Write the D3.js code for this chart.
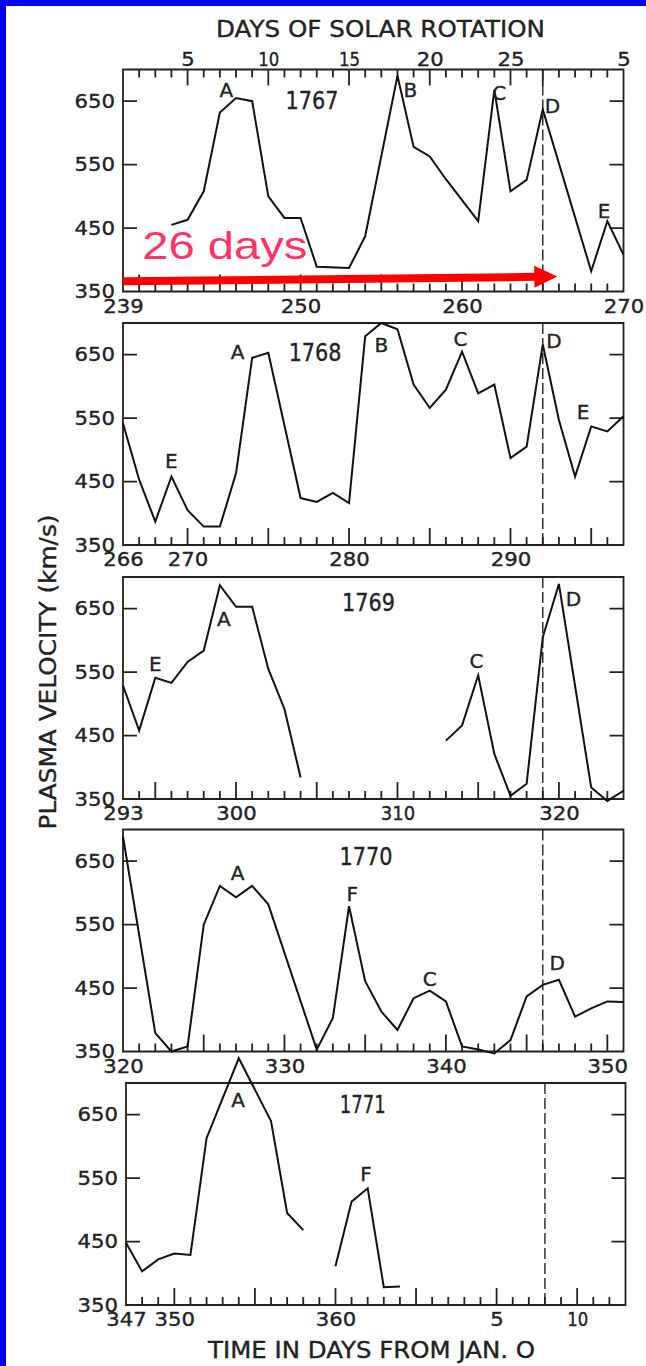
<!DOCTYPE html>
<html>
<head>
<meta charset="utf-8">
<script src="https://cdn.jsdelivr.net/npm/d3@7"></script>
<style>
  html, body { margin: 0; padding: 0; background: #fff; }
  svg { display: block; }
</style>
</head>
<body>
<svg id="chart" width="646" height="1366"></svg>
<script>
// ---- Data -------------------------------------------------------------
// Solar rotation numbers and the first day (day of year) shown in each strip
const rotations = [1767, 1768, 1769, 1770, 1771];
const dayStart = [239, 266, 293, 320, 347];

// Daily plasma velocity (km/s); null marks a data gap
const days1767 = [242, 243, 244, 245, 246, 247, 248, 249, 250, 251, 253, 254, 256, 257, 258, 259, 261, 262, 263, 264, 265, 268, 269, 270];
const vel1767  = [455, 463, 508, 632, 655, 650, 500, 466, 466, 389, 387, 437, 690, 578, 563, 527, 461, 668, 508, 526, 637, 382, 461, 408];

const days1768 = [266, 267, 268, 269, 270, 271, 272, 273, 274, 275, 277, 278, 279, 280, 281, 282, 283, 284, 285, 286, 287, 288, 289, 290, 291, 292, 293, 294, 295, 296, 297];
const vel1768  = [542, 453, 387, 458, 405, 379, 379, 463, 645, 653, 424, 418, 432, 416, 679, 700, 690, 603, 566, 595, 655, 589, 603, 487, 505, 666, 547, 458, 537, 529, 553];

const days1769 = [293, 294, 295, 296, 297, 298, 299, 300, 301, 302, 303, 304, 308, 313, 314, 315, 316, 317, 318, 319, 320, 322, 323, 324];
const vel1769  = [529, 458, 541, 533, 566, 584, 687, 653, 653, 555, 492, 384, null, 442, 466, 545, 421, 355, 374, 605, 689, 368, 347, 363];

const days1770 = [320, 322, 323, 324, 325, 326, 327, 328, 329, 332, 333, 334, 335, 336, 337, 338, 339, 340, 341, 342, 343, 344, 345, 346, 347, 348, 349, 350, 351];
const vel1770  = [689, 379, 350, 358, 550, 611, 593, 611, 582, 353, 403, 579, 461, 413, 384, 434, 446, 429, 358, 353, 347, 368, 437, 455, 463, 405, 418, 429, 428];

const days1771 = [347, 348, 349, 350, 351, 352, 354, 356, 357, 358, 359, 360, 361, 362, 363, 364];
const vel1771  = [448, 403, 422, 431, 429, 613, 739, 640, 495, 468, null, 411, 513, 534, 378, 379];

// Bottom axis labels of each strip (day of year; the last strip runs into January)
const tickDays = [
  [239, 250, 260, 270],
  [266, 270, 280, 290],
  [293, 300, 310, 320],
  [320, 330, 340, 350],
  [347, 350, 360, 370, 375]
];
const tickText = [
  ["239", "250", "260", "270"],
  ["266", "270", "280", "290"],
  ["293", "300", "310", "320"],
  ["320", "330", "340", "350"],
  ["347", "350", "360", "5", "10"]
];

// Days of solar rotation (top scale of the first strip)
const rotTickDays = [243, 248, 253, 258, 263, 270];
const rotTickText = ["5", "10", "15", "20", "25", "5"];

// Velocity axis
const velTicks = [350, 450, 550, 650];

// Recurring stream labels in data coordinates (day, km/s)
const peakLabels = [
  [ {t: "A", d: 245.4, v: 656}, {t: "B", d: 256.8, v: 656}, {t: "C", d: 262.3, v: 652}, {t: "D", d: 265.6, v: 632}, {t: "E", d: 268.8, v: 466} ],
  [ {t: "E", d: 269.0, v: 472}, {t: "A", d: 273.1, v: 644}, {t: "B", d: 282.0, v: 655}, {t: "C", d: 286.9, v: 664}, {t: "D", d: 292.7, v: 660}, {t: "E", d: 294.5, v: 549} ],
  [ {t: "E", d: 295.0, v: 552}, {t: "A", d: 299.25, v: 623}, {t: "C", d: 314.9, v: 557}, {t: "D", d: 320.9, v: 655} ],
  [ {t: "A", d: 327.1, v: 620}, {t: "F", d: 334.2, v: 588}, {t: "C", d: 339.0, v: 454}, {t: "D", d: 346.9, v: 478} ],
  [ {t: "A", d: 353.96, v: 662}, {t: "F", d: 361.9, v: 545} ]
];
// Rotation number label position in each strip (day, km/s)
const yearLabelPos = [
  {d: 250.7, v: 637}, {d: 277.9, v: 640}, {d: 308.2, v: 647}, {d: 335.05, v: 644}, {d: 361.7, v: 652}
];

// "26 days" arrow across the first strip (day, km/s)
const arrowFrom = {d: 239, v: 366};
const arrowTo   = {d: 265.9, v: 373.5};
const arrowText = {t: "26 days", d: 240.2, v: 401};

// ---- Layout -------------------------------------------------------------
const W = 646, H = 1366;
const panelTop   = [69.5, 323, 577, 829.5, 1083];
const panelH     = 222;
const panelLeft  = [123, 123, 123, 123, 126];
const panelWidth = [500.5, 500.5, 500.5, 500.5, 499.5];
const spanDays = 31;

const INK = "#222";
const FONT = "'DejaVu Sans', 'Liberation Sans', sans-serif";

// approximate widths of the hand lettering: narrow "1", wide other glyphs
function letteringWidth(str, narrow, wide) {
  return Array.from(str).reduce((w, c) => w + (c === "1" ? narrow : wide), 0);
}

const svg = d3.select("#chart");
svg.append("rect").attr("width", W).attr("height", H).attr("fill", "#fff");
svg.append("rect").attr("x", 0).attr("y", 0).attr("width", 6).attr("height", H).attr("fill", "#0000ff");
svg.append("rect").attr("x", 0).attr("y", 0).attr("width", W).attr("height", 6).attr("fill", "#0000ff");

const seriesDays = [days1767, days1768, days1769, days1770, days1771];
const seriesVel  = [vel1767, vel1768, vel1769, vel1770, vel1771];

// pen lettering: slightly heavier than the plain font
function styleText(sel, size) {
  sel.attr("font-family", FONT).attr("font-size", size).attr("fill", INK)
    .attr("stroke", INK).attr("stroke-width", 0.35);
}

rotations.forEach((rot, i) => {
  const x0 = panelLeft[i], x1 = panelLeft[i] + panelWidth[i];
  const yTop = panelTop[i], yBottom = panelTop[i] + panelH;
  const x = d3.scaleLinear().domain([dayStart[i], dayStart[i] + spanDays]).range([x0, x1]);
  const y = d3.scaleLinear().domain([350, 700]).range([yBottom, yTop]);

  const g = svg.append("g");

  // frame outline with its inward tick marks, built as one path
  const allDays = d3.range(dayStart[i] + 1, dayStart[i] + spanDays);
  const frame = d3.path();
  frame.rect(x0, yTop, x1 - x0, panelH);
  allDays.forEach(d => {
    frame.moveTo(x(d), yBottom);
    frame.lineTo(x(d), yBottom - (d % 5 === 0 ? 17 : 8));
  });
  velTicks.slice(1).forEach(v => {
    frame.moveTo(x0, y(v)); frame.lineTo(x0 + 14, y(v));
    frame.moveTo(x1, y(v)); frame.lineTo(x1 - 14, y(v));
  });
  if (i === 0) {
    const longTop = rotTickDays.concat([dayStart[i] + 26]);
    allDays.forEach(d => {
      frame.moveTo(x(d), yTop);
      frame.lineTo(x(d), yTop + (longTop.includes(d) ? 16 : 8));
    });
  }
  g.append("path").attr("d", frame.toString()).attr("fill", "none")
    .attr("stroke", INK).attr("stroke-width", 1.8);

  // top scale labels: days of solar rotation (first strip only)
  if (i === 0) {
    g.append("g").attr("transform", `translate(0,${yTop})`)
      .call(d3.axisTop(x).tickValues(rotTickDays).tickFormat((d, k) => rotTickText[k]).tickSize(0).tickPadding(4))
      .call(a => a.select(".domain").remove())
      .call(a => a.selectAll("text").call(styleText, 19)
        .attr("textLength", (d, k) => letteringWidth(rotTickText[k], 7.5, 13.5))
        .attr("lengthAdjust", "spacingAndGlyphs"));
  }

  // bottom labels
  g.append("g").attr("transform", `translate(0,${yBottom})`)
    .call(d3.axisBottom(x).tickValues(tickDays[i]).tickFormat((d, k) => tickText[i][k]).tickSize(0).tickPadding(8))
    .call(a => a.select(".domain").remove())
    .call(a => a.selectAll("text").call(styleText, 19)
      .attr("textLength", (d, k) => letteringWidth(tickText[i][k], 7.5, 13.5))
      .attr("lengthAdjust", "spacingAndGlyphs"));

  // velocity labels
  g.append("g").attr("transform", `translate(${x0},0)`)
    .call(d3.axisLeft(y).tickValues(velTicks).tickSize(0).tickPadding(8).tickFormat(d3.format("d")))
    .call(a => a.select(".domain").remove())
    .call(a => a.selectAll("text").call(styleText, 19)
      .attr("textLength", d => letteringWidth(String(d), 7.5, 13.5))
      .attr("lengthAdjust", "spacingAndGlyphs"));

  // end of the 27-day rotation
  const xr = x(dayStart[i] + 26);
  g.append("line").attr("x1", xr).attr("x2", xr).attr("y1", yTop).attr("y2", yBottom)
    .attr("stroke", INK).attr("stroke-width", 1.4).attr("stroke-dasharray", "11,4");

  // velocity trace
  const pts = seriesDays[i].map((d, k) => ({d, v: seriesVel[i][k]}));
  const line = d3.line().defined(p => p.v != null).x(p => x(p.d)).y(p => y(p.v));
  g.append("path").attr("d", line(pts)).attr("fill", "none")
    .attr("stroke", "#111").attr("stroke-width", 2).attr("stroke-linejoin", "miter");

  // labels
  g.append("text").attr("x", x(yearLabelPos[i].d)).attr("y", y(yearLabelPos[i].v))
    .attr("text-anchor", "middle").call(styleText, 25)
    .attr("textLength", letteringWidth(String(rot), 8, 15)).attr("lengthAdjust", "spacingAndGlyphs")
    .text(rot);
  g.selectAll("text.peak").data(peakLabels[i]).join("text").attr("class", "peak")
    .attr("x", p => x(p.d)).attr("y", p => y(p.v)).attr("text-anchor", "middle")
    .call(styleText, 20).text(p => p.t);

  // "26 days" annotation on the first strip
  if (i === 0) {
    const ax0 = x(arrowFrom.d), ay0 = y(arrowFrom.v);
    const ax1 = x(arrowTo.d), ay1 = y(arrowTo.v);
    const headLen = 23, headHalf = 11;
    const ang = Math.atan2(ay1 - ay0, ax1 - ax0);
    const bx = ax1 - headLen * Math.cos(ang), by = ay1 - headLen * Math.sin(ang);
    g.append("line").attr("x1", ax0).attr("y1", ay0).attr("x2", bx + 2).attr("y2", by)
      .attr("stroke", "#ff0000").attr("stroke-width", 8);
    const nx = -Math.sin(ang), ny = Math.cos(ang);
    g.append("polygon")
      .attr("points", [[ax1, ay1], [bx + nx * headHalf, by + ny * headHalf], [bx - nx * headHalf, by - ny * headHalf]].map(p => p.join(",")).join(" "))
      .attr("fill", "#ff0000");
    g.append("text").attr("x", x(arrowText.d)).attr("y", y(arrowText.v))
      .attr("font-family", "'Liberation Sans', Arial, sans-serif").attr("font-size", 39)
      .attr("fill", "#ff3366").attr("textLength", 165).attr("lengthAdjust", "spacingAndGlyphs")
      .text(arrowText.t);
  }
});

// axis titles
svg.append("text").attr("x", 380.5).attr("y", 36.5).attr("text-anchor", "middle")
  .call(styleText, 23).attr("textLength", 329).attr("lengthAdjust", "spacingAndGlyphs")
  .text("DAYS OF SOLAR ROTATION");
svg.append("text").attr("x", 371.5).attr("y", 1358).attr("text-anchor", "middle")
  .call(styleText, 23).attr("textLength", 327).attr("lengthAdjust", "spacingAndGlyphs")
  .text("TIME IN DAYS FROM JAN. O");
svg.append("text").attr("transform", "translate(56,672) rotate(-90)").attr("text-anchor", "middle")
  .call(styleText, 23).attr("textLength", 315).attr("lengthAdjust", "spacingAndGlyphs")
  .text("PLASMA VELOCITY (km/s)");
</script>
</body>
</html>
